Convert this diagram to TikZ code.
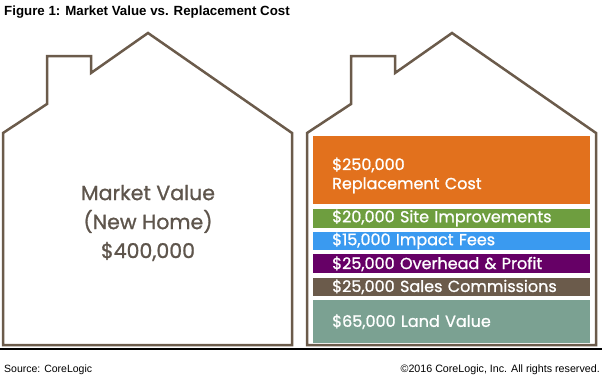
\documentclass[tikz,border=0pt]{standalone}
\usepackage{fontspec}
\setmainfont{Liberation Sans}
\newfontfamily\homefont[FakeBold=1]{Poppins}
\usepackage{tikz}
\usetikzlibrary{positioning}

\definecolor{housebrown}{HTML}{6B5B4B}
\definecolor{costorange}{HTML}{E2711D}
\definecolor{sitegreen}{HTML}{6E9E3F}
\definecolor{feeblue}{HTML}{3A9AF0}
\definecolor{profitpurple}{HTML}{660066}
\definecolor{salesbrown}{HTML}{6B5B4B}
\definecolor{landteal}{HTML}{7BA192}
\definecolor{valuegray}{HTML}{5E554C}

\begin{document}
\begin{tikzpicture}[
    x = 1pt, y = -1pt, % one unit is one pixel, y runs down
    node distance = 4pt, % gap between the cost bars
    house/.style = {draw = housebrown, line width = 2.5pt, line join = miter},
    costbar/.style = {
        text width = 239pt,
        inner xsep = 19pt,
        inner ysep = 0pt,
        align = left,
        text = white,
        font = \homefont\fontsize{16}{19}\selectfont
        }
    ]
    \useasboundingbox (0,0) rectangle (602,380);

    % the two houses
    \foreach \dx in {0,304}
        \draw[house] (3+\dx,133) -- (47+\dx,104) -- (47+\dx,56) -- (91+\dx,56)
            -- (91+\dx,73) -- (148+\dx,33) -- (292+\dx,133) -- (292+\dx,345)
            -- (3+\dx,345) -- cycle;

    % ground line
    \coordinate (g1) at (0,348.5);
    \coordinate (g2) at (602,348.5);
    \draw[line width = 2pt] (g1) -- (g2);

    % left house
    \node[align = center, text = valuegray,
          font = \homefont\fontsize{20.5}{29}\selectfont] (mv) at (148,223)
        {Market Value\\(New Home)\\\$400,000};

    % right house, cost breakdown
    \node[costbar, fill = costorange, minimum height = 68pt, anchor = north west]
        (rc) at (313,136) {\rule{0pt}{23pt}\$250,000\\Replacement Cost};
    \node[costbar, fill = sitegreen, minimum height = 19pt] (si) [below=of rc]
        {\$20,000 Site Improvements};
    \node[costbar, fill = feeblue, minimum height = 18pt] (if) [below=of si]
        {\$15,000 Impact Fees};
    \node[costbar, fill = profitpurple, minimum height = 19pt] (op) [below=of if]
        {\$25,000 Overhead \& Profit};
    \node[costbar, fill = salesbrown, minimum height = 18pt] (sc) [below=of op]
        {\$25,000 Sales Commissions};
    \node[costbar, fill = landteal, minimum height = 43pt] (lv) [below=of sc]
        {\$65,000 Land Value};

    % title and footer
    \node[anchor = base west, inner sep = 0pt, font = \bfseries\fontsize{13.3}{15}\selectfont]
        (title) at (4,15) {Figure 1: Market Value vs. Replacement Cost};
    \node[anchor = base west, inner sep = 0pt, font = \fontsize{10.5}{12}\selectfont]
        (src) at (4,372) {Source: CoreLogic};
    \node[anchor = base east, inner sep = 0pt, font = \fontsize{10.7}{12}\selectfont]
        (copy) at (600,372) {\textcopyright 2016 CoreLogic, Inc. All rights reserved.};
\end{tikzpicture}
\end{document}
